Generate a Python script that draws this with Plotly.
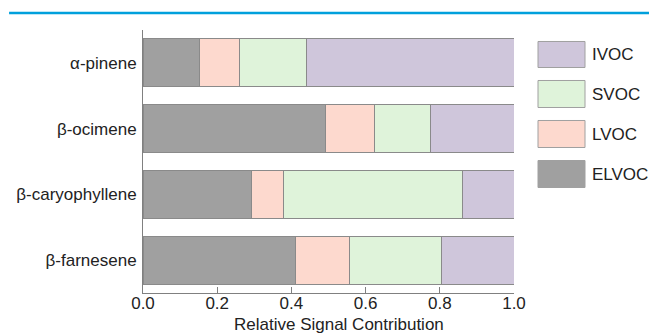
import plotly.graph_objects as go

categories = ["α-pinene", "β-ocimene", "β-caryophyllene", "β-farnesene"]
series_names = ["ELVOC", "LVOC", "SVOC", "IVOC"]
elvoc = [0.153, 0.492, 0.293, 0.411]
lvoc = [0.107, 0.132, 0.085, 0.145]
svoc = [0.182, 0.152, 0.483, 0.248]
ivoc = [0.558, 0.224, 0.139, 0.196]
colors = ["#a0a0a0", "#fdd9ce", "#dff3da", "#cfc6db"]
x_ticks = [0.0, 0.2, 0.4, 0.6, 0.8, 1.0]
x_tick_labels = ["0.0", "0.2", "0.4", "0.6", "0.8", "1.0"]
x_title = "Relative Signal Contribution"

FONT = "Liberation Sans, Arial, sans-serif"
FS = 17
values = [elvoc, lvoc, svoc, ivoc]

fig = go.Figure()
for name, vals, col in zip(series_names, values, colors):
    fig.add_trace(go.Bar(
        y=categories, x=vals, name=name, orientation="h",
        marker=dict(color=col, line=dict(color="#8a8a8a", width=1)),
        width=0.73, showlegend=False,
    ))

# custom legend (large swatches), top-to-bottom IVOC, SVOC, LVOC, ELVOC
leg_rows = [(0.9563, 0.8574), (0.8080, 0.7053), (0.6559, 0.5532), (0.5038, 0.4011)]
shapes = []
annotations = []
for (y1, y0), name, col in zip(leg_rows, series_names[::-1], colors[::-1]):
    shapes.append(dict(type="rect", xref="paper", yref="paper",
                       x0=1.0647, x1=1.1914, y0=y0, y1=y1,
                       fillcolor=col, line=dict(color="#a0a0a0", width=1)))
    annotations.append(dict(xref="paper", yref="paper", x=1.2048, y=(y0 + y1) / 2,
                            text=name, showarrow=False, xanchor="left", yanchor="middle",
                            font=dict(family=FONT, size=FS, color="#222222")))

# x-axis title
annotations.append(dict(xref="paper", yref="paper", x=0.528, y=-0.118,
                        text=x_title, showarrow=False, xanchor="center", yanchor="middle",
                        font=dict(family=FONT, size=FS, color="#222222")))

# top blue rule
shapes.append(dict(type="line", xref="paper", yref="paper",
                   x0=-0.361, x1=1.364, y0=1.0646, y1=1.0646,
                   line=dict(color="#00a0dc", width=2.5)))

fig.update_layout(
    barmode="stack",
    width=649, height=334,
    margin=dict(l=143, r=135, t=30, b=41),
    paper_bgcolor="white", plot_bgcolor="white",
    shapes=shapes, annotations=annotations,
    font=dict(family=FONT, size=FS, color="#222222"),
    xaxis=dict(range=[0, 1.0], tickvals=x_ticks, ticktext=x_tick_labels,
               ticks="inside", ticklen=6, tickcolor="#808080",
               showline=True, linecolor="#808080", linewidth=1,
               showgrid=False, zeroline=False, ticklabelstandoff=-5),
    yaxis=dict(categoryorder="array", categoryarray=categories[::-1],
               range=[-0.5, 3.5], showline=True, linecolor="#808080", linewidth=1,
               ticks="", showgrid=False, zeroline=False, ticklabelstandoff=2),
)

fig.write_html("out.html")
